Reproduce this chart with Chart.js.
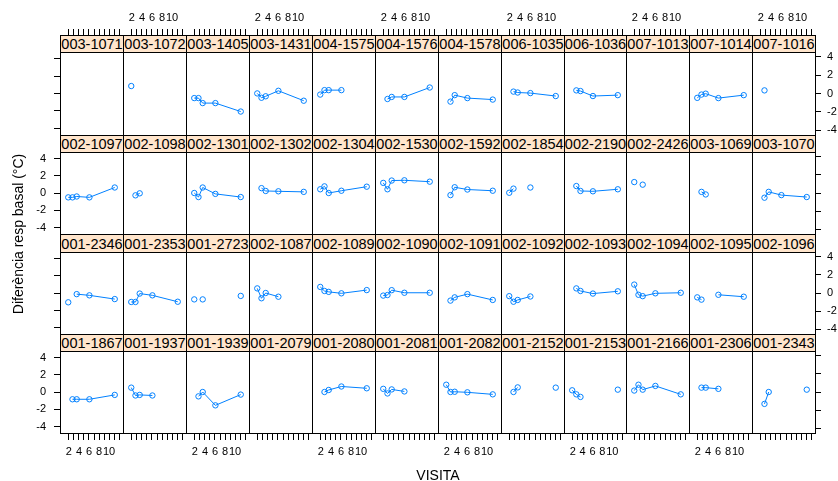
<!DOCTYPE html>
<html>
<head>
<meta charset="utf-8">
<script src="https://cdn.jsdelivr.net/npm/chart.js@4.4.1/dist/chart.umd.min.js"></script>
<style>
  body { margin: 0; background: #fff; }
  #fig { position: relative; width: 838px; height: 481px; overflow: hidden;
         font-family: "Liberation Sans", Arial, sans-serif; }
  #fig canvas { position: absolute; }
  .strip { position: absolute; box-sizing: border-box; border: 1px solid #000; background: #ffe5cc;
           font-size: 14.5px; color: #000; display: flex; align-items: center; justify-content: center;
           white-space: nowrap; overflow: hidden; }
  .frame { position: absolute; box-sizing: border-box; border: 1px solid #000; pointer-events: none; }
  .txt { position: absolute; font-size: 14px; color: #000; white-space: nowrap; }
</style>
</head>
<body>
<div id="fig"></div>
<script>
// pacients in lattice order (bottom row first, left to right)
var pacients = [
  '001-1867', '001-1937', '001-1939', '001-2079', '001-2080', '001-2081',
  '001-2082', '001-2152', '001-2153', '001-2166', '001-2306', '001-2343',
  '001-2346', '001-2353', '001-2723', '002-1087', '002-1089', '002-1090',
  '002-1091', '002-1092', '002-1093', '002-1094', '002-1095', '002-1096',
  '002-1097', '002-1098', '002-1301', '002-1302', '002-1304', '002-1530',
  '002-1592', '002-1854', '002-2190', '002-2426', '003-1069', '003-1070',
  '003-1071', '003-1072', '003-1405', '003-1431', '004-1575', '004-1576',
  '004-1578', '006-1035', '006-1036', '007-1013', '007-1014', '007-1016'
];
var visites = [1, 2, 3, 6, 12];
// diferència resp basal per visita (null = sense dada)
var difs = [
  [null, -0.90, -0.90, -0.90, -0.36],
  [0.54, -0.43, -0.36, -0.43, null],
  [null, -0.54, 0.00, -1.65, -0.32],
  [null, null, null, null, null],
  [null, 0.00, 0.25, 0.68, 0.46],
  [0.39, -0.18, 0.32, 0.07, null],
  [0.90, 0.00, 0.03, -0.04, -0.29],
  [null, 0.00, 0.57, null, 0.54],
  [0.21, -0.29, -0.61, null, 0.29],
  [0.18, 0.90, 0.29, 0.75, -0.29],
  [null, 0.54, 0.54, 0.39, null],
  [null, -1.47, 0.00, null, 0.29],

  [-1.15, null, -0.14, -0.29, -0.75],
  [-1.11, -1.11, -0.07, -0.29, -1.08],
  [-0.79, null, -0.79, null, -0.36],
  [0.57, -0.65, 0.00, -0.46, null],
  [0.75, 0.25, 0.14, -0.04, 0.36],
  [-0.32, -0.25, 0.35, 0.03, 0.03],
  [null, -0.94, -0.54, -0.14, -0.86],
  [-0.39, -1.08, -0.86, -0.43, null],
  [null, 0.57, 0.25, -0.07, 0.21],
  [1.04, -0.22, -0.39, -0.04, 0.03],
  [-0.54, -0.82, null, -0.22, -0.46],
  [null, null, null, null, null],

  [-0.54, -0.54, -0.43, -0.54, 0.68],
  [null, -0.29, -0.04, null, null],
  [0.00, -0.50, 0.68, -0.11, -0.50],
  [null, 0.60, 0.25, 0.21, 0.14],
  [0.46, 0.82, 0.00, 0.28, 0.78],
  [1.25, 0.46, 1.54, 1.57, 1.40],
  [null, -0.26, 0.71, 0.43, 0.28],
  [0.03, 0.54, null, 0.68, null],
  [null, 0.86, 0.25, 0.21, 0.46],
  [1.35, null, 1.03, null, null],
  [null, 0.14, -0.18, null, null],
  [null, -0.58, 0.14, -0.26, -0.50],

  [null, null, null, null, null],
  [0.91, null, null, null, null],
  [-0.56, -0.56, -1.17, -1.17, -2.20],
  [0.01, -0.52, -0.34, 0.33, -0.88],
  [-0.13, 0.41, 0.41, 0.41, null],
  [null, -0.67, -0.42, -0.42, 0.73],
  [null, -0.99, -0.20, -0.56, -0.74],
  [null, 0.23, 0.12, 0.05, -0.31],
  [null, 0.38, 0.30, -0.31, -0.20],
  [null, null, null, null, null],
  [-0.53, -0.13, -0.02, -0.56, -0.20],
  [null, 0.38, null, null, null]
];
var ticksX = [2, 3, 4, 5, 6, 7, 8, 9, 10, 11, 12];
var etiquetesX = [2, 4, 6, 8, 10];
var ticksY = [-4, -2, 0, 2, 4];

var xMin = 0.23, xMax = 12.77, yMin = -4.45, yMax = 4.45;
var blau = '#0080ff';
var nCols = 12, nRows = 4;

Chart.defaults.font.family = '"Liberation Sans", Arial, sans-serif';
Chart.defaults.color = '#000';

var fig = document.getElementById('fig');
var colX = [];
for (var c = 0; c <= nCols; c++) colX.push(Math.round(60.3 + c * 62.9));
var stripTop = [], panelTop = [], panelBot = [];
for (var r = 0; r < nRows; r++) {
  stripTop.push(Math.round(35 + r * 99.6));
  panelTop.push(Math.round(52.3 + r * 99.6));
  panelBot.push(Math.round(134.7 + r * 99.6));
}

function canvasAt(left, top, w, h) {
  var cv = document.createElement('canvas');
  cv.width = w; cv.height = h;
  cv.style.left = left + 'px'; cv.style.top = top + 'px';
  cv.style.width = w + 'px'; cv.style.height = h + 'px';
  fig.appendChild(cv);
  return cv;
}
function div(cls, left, top, w, h, text) {
  var d = document.createElement('div');
  d.className = cls;
  d.style.left = left + 'px'; d.style.top = top + 'px';
  d.style.width = w + 'px'; d.style.height = h + 'px';
  if (text) d.textContent = text;
  fig.appendChild(d);
  return d;
}
var base = { responsive: false, animation: false, events: [],
  plugins: { legend: { display: false }, tooltip: { enabled: false } } };

// panels
pacients.forEach(function (p, i) {
  var c = i % nCols, r = nRows - 1 - Math.floor(i / nCols);
  var w = colX[c + 1] - colX[c], h = panelBot[r] - panelTop[r];
  var cv = canvasAt(colX[c], panelTop[r], w, h);
  new Chart(cv, {
    type: 'line',
    data: { datasets: [{
      data: visites.map(function (v, k) { return { x: v, y: difs[i][k] }; }),
      borderColor: blau, borderWidth: 1, tension: 0, spanGaps: false, clip: false,
      pointRadius: 2.7, pointBorderWidth: 1, pointBorderColor: blau,
      pointBackgroundColor: 'rgba(0,0,0,0)'
    }] },
    options: Object.assign({}, base, {
      layout: { padding: 0 },
      scales: {
        x: { type: 'linear', min: xMin, max: xMax, display: false },
        y: { type: 'linear', min: yMin, max: yMax, display: false }
      }
    })
  });
  div('strip', colX[c], stripTop[r], w + 1, panelTop[r] - stripTop[r] + 1, p);
  div('frame', colX[c], panelTop[r], w + 1, h + 1);
});

var M = 12;
function tickGrid() { return { drawOnChartArea: false, drawTicks: true, tickLength: 6, color: '#000', lineWidth: 1 }; }

// top and bottom axes
for (var c = 0; c < nCols; c++) {
  ['top', 'bottom'].forEach(function (pos) {
    var labelled = pos === 'top' ? (c % 2 === 1) : (c % 2 === 0);
    var w = colX[c + 1] - colX[c];
    var top = pos === 'top' ? 0 : panelBot[nRows - 1];
    var h = pos === 'top' ? stripTop[0] + 1 : 481 - panelBot[nRows - 1];
    var cv = canvasAt(colX[c] - M, top, w + 2 * M, h);
    new Chart(cv, {
      type: 'line', data: { datasets: [] },
      options: Object.assign({}, base, {
        layout: { padding: { left: M, right: M } },
        scales: {
          x: { type: 'linear', position: pos, min: xMin, max: xMax,
               afterFit: function (s) { s.height = h - 1; },
               afterBuildTicks: function (s) { s.ticks = ticksX.map(function (v) { return { value: v }; }); },
               ticks: { autoSkip: false, maxRotation: 0, padding: pos === 'top' ? 4 : 5, font: { size: 11 },
                        callback: function (v) { return labelled && etiquetesX.indexOf(v) >= 0 ? String(v) : ''; } },
               grid: tickGrid(), border: { display: false } },
          y: { display: false, min: yMin, max: yMax }
        }
      })
    });
  });
}

// left and right axes
for (var r = 0; r < nRows; r++) {
  ['left', 'right'].forEach(function (pos) {
    var labelled = pos === 'left' ? (r % 2 === 1) : (r % 2 === 0);
    var h = panelBot[r] - panelTop[r];
    var left = pos === 'left' ? 0 : colX[nCols] - 1;
    var w = pos === 'left' ? colX[0] + 1 : 838 - colX[nCols] + 1;
    var cv = canvasAt(left, panelTop[r] - M, w, h + 2 * M);
    new Chart(cv, {
      type: 'line', data: { datasets: [] },
      options: Object.assign({}, base, {
        layout: { padding: { top: M, bottom: M } },
        scales: {
          x: { type: 'linear', display: false, min: xMin, max: xMax },
          y: { type: 'linear', position: pos, min: yMin, max: yMax,
               afterFit: function (s) { s.width = w - 1; },
               afterBuildTicks: function (s) { s.ticks = ticksY.map(function (v) { return { value: v }; }); },
               ticks: { autoSkip: false, padding: pos === 'left' ? 8 : 6, font: { size: 11 },
                        callback: function (v) { return labelled ? String(v) : ''; } },
               grid: tickGrid(), border: { display: false } }
        }
      })
    });
  });
}

// axis titles
var yt = div('txt', 0, 0, 0, 0, 'Diferència resp basal (°C)');
yt.style.width = 'auto'; yt.style.height = 'auto';
yt.style.left = '18px'; yt.style.top = '234px';
yt.style.transform = 'translate(-50%, -50%) rotate(-90deg)';
var xt = div('txt', 0, 0, 0, 0, 'VISITA');
xt.style.width = 'auto'; xt.style.height = 'auto';
xt.style.left = '438px'; xt.style.top = '475px';
xt.style.transform = 'translate(-50%, -50%)';
</script>
</body>
</html>
